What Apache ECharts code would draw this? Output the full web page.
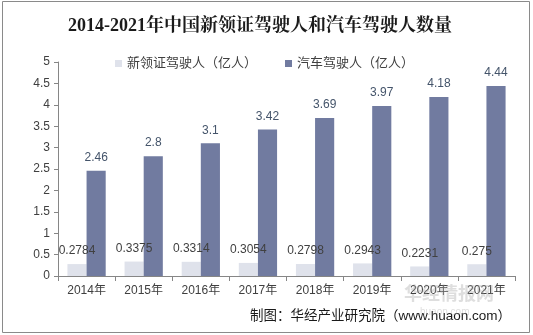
<!DOCTYPE html>
<html><head><meta charset="utf-8">
<script src="https://cdn.jsdelivr.net/npm/echarts@6/dist/echarts.min.js"></script>
<style>html,body{margin:0;padding:0;background:#fff}#c{width:533px;height:335px}</style>
</head><body><div id="c"></div>
<script>
var categories = ['2014年','2015年','2016年','2017年','2018年','2019年','2020年','2021年'];
var newDrivers = [0.2784,0.3375,0.3314,0.3054,0.2798,0.2943,0.2231,0.275];
var carDrivers = [2.46,2.8,3.1,3.42,3.69,3.97,4.18,4.44];
var yTicks = [0,0.5,1,1.5,2,2.5,3,3.5,4,4.5,5];
var seriesNames = ['新领证驾驶人（亿人）','汽车驾驶人（亿人）'];

var chart = echarts.init(document.getElementById('c'), null, {renderer:'canvas'});
var latin = 'Arial, "Liberation Sans", "Noto Sans CJK SC", sans-serif';
chart.setOption({
  animation:false,
  backgroundColor:'#fff',
  title:{
    text:'2014-2021年中国新领证驾驶人和汽车驾驶人数量',
    left:63, top:12,
    textStyle:{fontSize:18, fontWeight:'bold', color:'#1a1a1a', fontFamily:'"Liberation Serif", "Noto Serif CJK SC", "Noto Sans CJK SC", serif'}
  },
  legend:{
    top:52, left:110,
    itemWidth:7, itemHeight:7, itemGap:28,
    icon:'rect',
    textStyle:{fontSize:13, color:'#404040', fontFamily:latin},
    data:seriesNames
  },
  grid:{left:58, right:18, top:62, bottom:59, containLabel:false},
  xAxis:{
    type:'category', data:categories,
    axisLine:{lineStyle:{color:'#868686'}},
    axisTick:{show:true, alignWithLabel:false, length:5, lineStyle:{color:'#868686'}},
    axisLabel:{fontSize:12, color:'#404040', margin:9, fontFamily:latin}
  },
  yAxis:{
    type:'value', min:yTicks[0], max:yTicks[yTicks.length-1], interval:0.5,
    axisLine:{show:true, lineStyle:{color:'#868686'}},
    axisTick:{show:true, length:4, inside:false, lineStyle:{color:'#868686'}},
    splitLine:{show:false},
    axisLabel:{fontSize:12, color:'#404040', margin:8, fontFamily:latin}
  },
  series:[
    {name:seriesNames[0], type:'bar', data:newDrivers, barGap:'0%', barCategoryGap:'33%',
     itemStyle:{color:'#dfe2eb'},
     label:{show:true, position:'top', distance:7, fontSize:12, color:'#404040', fontFamily:latin}},
    {name:seriesNames[1], type:'bar', data:carDrivers, barGap:'0%', barCategoryGap:'33%',
     itemStyle:{color:'#717ba0'},
     label:{show:true, position:'top', distance:7, fontSize:12, color:'#44546a', fontFamily:latin}}
  ],
  graphic:[
    {type:'rect', shape:{x:2.5, y:1.5, width:527, height:331}, style:{fill:'none', stroke:'#8a8a8a', lineWidth:1}, z:-1},
    {type:'text', right:22, top:310, style:{text:'制图：华经产业研究院（www.huaon.com）', fill:'#1a1a1a', font:'13.5px Arial, "Noto Sans CJK SC", sans-serif'}},
    {type:'text', left:404, top:284, z:100, style:{text:'华经情报网', font:'bold 18px "Noto Sans CJK SC", sans-serif', fill:'rgba(160,160,160,0.35)'}},
    {type:'text', left:420, top:307, z:100, style:{text:'huaon.com', font:'10px Arial, sans-serif', fill:'rgba(160,160,160,0.35)'}}
  ]
});
</script></body></html>
